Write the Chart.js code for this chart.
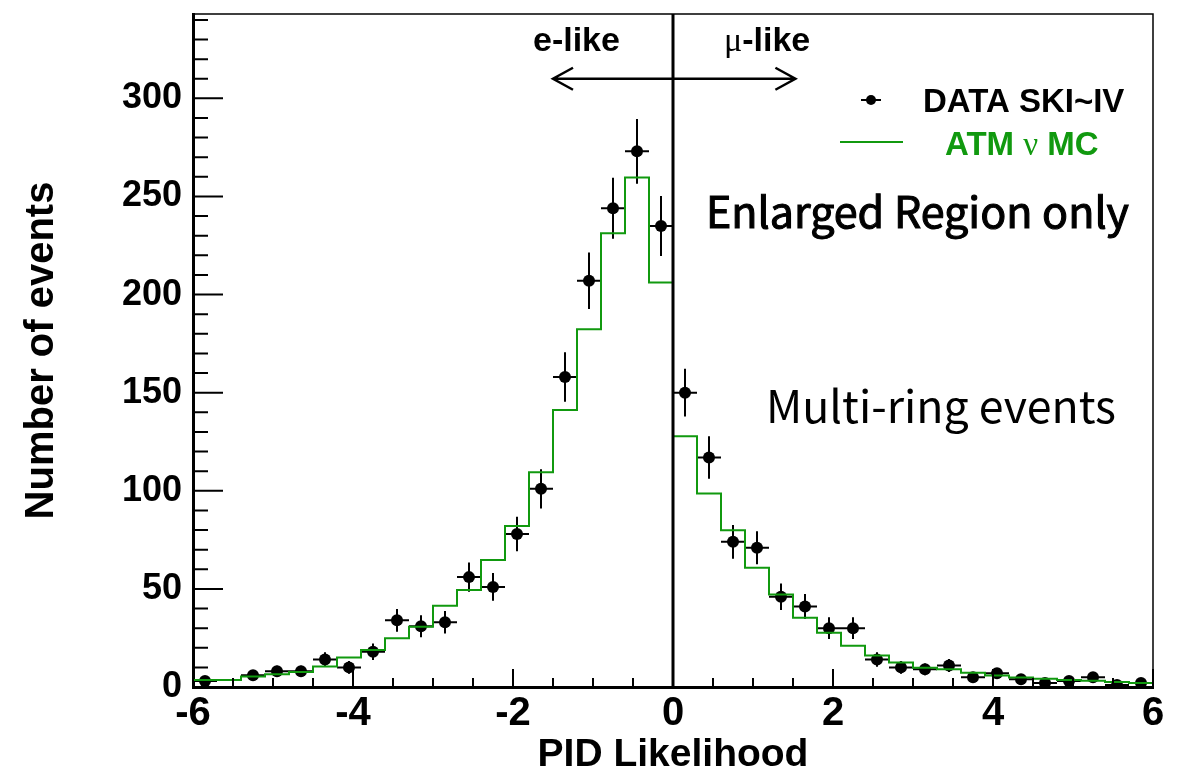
<!DOCTYPE html>
<html>
<head>
<meta charset="utf-8">
<script src="https://cdn.jsdelivr.net/npm/chart.js@4.4.1/dist/chart.umd.min.js"></script>
<style>
  html, body { margin: 0; padding: 0; background: #fff; }
  canvas { display: block; }
</style>
</head>
<body>
<canvas id="pidChart" width="1188" height="775"></canvas>
<script>
// PID likelihood bins (width 0.3, range -6..6)
const binCenters = [
  -5.85, -5.55, -5.25, -4.95, -4.65, -4.35, -4.05, -3.75, -3.45, -3.15,
  -2.85, -2.55, -2.25, -1.95, -1.65, -1.35, -1.05, -0.75, -0.45, -0.15,
   0.15,  0.45,  0.75,  1.05,  1.35,  1.65,  1.95,  2.25,  2.55,  2.85,
   3.15,  3.45,  3.75,  4.05,  4.35,  4.65,  4.95,  5.25,  5.55,  5.85
];
const binWidth = 0.3;

// DATA SK I-IV, multi-ring events (null = empty bin)
const dataCounts = [
  3, null, 6, 8, 8, 14, 10, 18, 34, 31,
  33, 56, 51, 78, 101, 158, 207, 244, 273, 235,
  150, 117, 74, 71, 46, 41, 30, 30, 14, 10,
  9, 11, 5, 7, 4, 2, 3, 5, 1, 2
];
const dataErrors = [
  1.7, null, 2.4, 2.8, 2.8, 3.7, 3.2, 4.2, 5.8, 5.6,
  5.7, 7.5, 7.1, 8.8, 10.0, 12.6, 14.4, 15.6, 16.5, 15.3,
  12.2, 10.8, 8.6, 8.4, 6.8, 6.4, 5.5, 5.5, 3.7, 3.2,
  3.0, 3.3, 2.2, 2.6, 2.0, 1.4, 1.7, 2.2, 1.0, 1.4
];

// atmospheric neutrino MC expectation
const mcCounts = [
  3.6, 3.6, 5.3, 6.5, 7.6, 10.5, 15.0, 18.8, 24.8, 30.7,
  41.4, 49.4, 64.7, 82.1, 109.5, 141.2, 182.3, 231.3, 259.7, 206.1,
  127.8, 98.6, 79.9, 60.8, 47.2, 35.3, 27.7, 21.0, 16.0, 12.5,
  9.8, 9.0, 7.3, 5.9, 4.9, 4.2, 3.6, 3.2, 2.5, 2.0
];

const xTickValues = [-6, -4, -2, 0, 2, 4, 6];
const yTickValues = [0, 50, 100, 150, 200, 250, 300];
const xRange = [-6, 6];
const yRange = [0, 343];

const GREEN = '#11990f';
const SANS = '"Liberation Sans", Arial, Helvetica, sans-serif';
const SERIF = '"Liberation Serif", "DejaVu Serif", serif';
const JP = '"Noto Sans CJK JP", "Noto Sans", sans-serif';

const dataPoints = binCenters.map((x, i) => ({ x: x, y: dataCounts[i] }));
// step outline: one point per left bin edge, closed at the right edge
const mcPoints = binCenters.map((x, i) => ({ x: x - binWidth / 2, y: mcCounts[i] }));
mcPoints.push({ x: binCenters[binCenters.length - 1] + binWidth / 2, y: mcCounts[mcCounts.length - 1] });

// horizontal + vertical error bars on the data points
const errorBars = {
  id: 'errorBars',
  afterDatasetDraw(chart, args) {
    if (args.index !== 0) return;
    const { ctx, scales: { x, y } } = chart;
    ctx.save();
    ctx.beginPath();
    ctx.rect(chart.chartArea.left, chart.chartArea.top, chart.chartArea.width, chart.chartArea.height);
    ctx.clip();
    ctx.strokeStyle = '#000';
    ctx.lineWidth = 2;
    binCenters.forEach((c, i) => {
      const v = dataCounts[i];
      if (v === null) return;
      const e = dataErrors[i];
      const px = x.getPixelForValue(c);
      const py = y.getPixelForValue(v);
      ctx.beginPath();
      ctx.moveTo(x.getPixelForValue(c - binWidth / 2), py);
      ctx.lineTo(x.getPixelForValue(c + binWidth / 2), py);
      ctx.moveTo(px, y.getPixelForValue(v - e));
      ctx.lineTo(px, y.getPixelForValue(v + e));
      ctx.stroke();
    });
    ctx.restore();
  }
};

// frame, inward ticks, zero line, arrows, legend and labels
const decorations = {
  id: 'decorations',
  afterDraw(chart) {
    const { ctx, chartArea: a, scales: { x, y } } = chart;
    ctx.save();

    // top and right frame edges
    ctx.strokeStyle = '#000';
    ctx.lineWidth = 1.5;
    ctx.beginPath();
    ctx.moveTo(a.left, a.top);
    ctx.lineTo(a.right, a.top);
    ctx.lineTo(a.right, a.bottom);
    ctx.stroke();

    // ticks pointing into the frame
    ctx.lineWidth = 2;
    ctx.beginPath();
    for (let v = xRange[0]; v <= xRange[1] + 1e-9; v += 0.5) {
      const px = x.getPixelForValue(v);
      const len = Math.abs(v % 2) < 1e-9 ? 18 : 9;
      ctx.moveTo(px, a.bottom);
      ctx.lineTo(px, a.bottom - len);
    }
    for (let v = 0; v <= yRange[1]; v += 10) {
      const py = y.getPixelForValue(v);
      const len = v % 50 === 0 ? 30 : 15;
      ctx.moveTo(a.left, py);
      ctx.lineTo(a.left + len, py);
    }
    ctx.stroke();

    // PID = 0 separation line
    const x0 = x.getPixelForValue(0);
    ctx.lineWidth = 3;
    ctx.beginPath();
    ctx.moveTo(x0, a.top);
    ctx.lineTo(x0, a.bottom);
    ctx.stroke();

    // e-like / mu-like double arrow
    const ay = y.getPixelForValue(310);
    const aL = x.getPixelForValue(-1.5);
    const aR = x.getPixelForValue(1.53);
    ctx.lineWidth = 2.5;
    ctx.beginPath();
    ctx.moveTo(aL, ay);
    ctx.lineTo(aR, ay);
    ctx.moveTo(aL + 20, ay - 11);
    ctx.lineTo(aL, ay);
    ctx.lineTo(aL + 20, ay + 11);
    ctx.moveTo(aR - 20, ay - 11);
    ctx.lineTo(aR, ay);
    ctx.lineTo(aR - 20, ay + 11);
    ctx.stroke();

    ctx.fillStyle = '#000';
    ctx.textBaseline = 'alphabetic';
    ctx.textAlign = 'left';
    ctx.font = 'bold 34px ' + SANS;
    ctx.fillText('e-like', 533, 51);

    ctx.font = '34px ' + SERIF;
    ctx.fillText('\u03bc', 724, 51);
    const muW = ctx.measureText('\u03bc').width;
    ctx.font = 'bold 34px ' + SANS;
    ctx.fillText('-like', 724 + muW, 51);

    // legend
    const lx = 871, ly = 100;
    ctx.lineWidth = 2;
    ctx.beginPath();
    ctx.moveTo(lx - 10, ly);
    ctx.lineTo(lx + 10, ly);
    ctx.stroke();
    ctx.beginPath();
    ctx.arc(lx, ly, 5, 0, Math.PI * 2);
    ctx.fill();
    ctx.font = 'bold 33px ' + SANS;
    ctx.fillText('DATA SKI~IV', 923, 112);

    ctx.strokeStyle = GREEN;
    ctx.lineWidth = 2;
    ctx.beginPath();
    ctx.moveTo(840, 142);
    ctx.lineTo(903, 142);
    ctx.stroke();
    ctx.fillStyle = GREEN;
    let tx = 945;
    ctx.font = 'bold 33px ' + SANS;
    ctx.fillText('ATM ', tx, 155);
    tx += ctx.measureText('ATM ').width;
    ctx.font = '33px ' + SERIF;
    ctx.fillText('\u03bd', tx, 155);
    tx += ctx.measureText('\u03bd').width;
    ctx.font = 'bold 33px ' + SANS;
    ctx.fillText(' MC', tx, 155);

    // sample description (medium weight: regular face with a thin outline)
    ctx.fillStyle = '#000';
    ctx.strokeStyle = '#000';
    ctx.lineWidth = 1.1;
    ctx.font = '400 43px ' + JP;
    ctx.fillText('Enlarged Region only', 706, 228, 424);
    ctx.strokeText('Enlarged Region only', 706, 228, 424);
    ctx.font = '400 45px ' + JP;
    ctx.fillText('Multi-ring events', 766, 423, 350);

    ctx.restore();
  }
};

new Chart(document.getElementById('pidChart'), {
  type: 'scatter',
  data: {
    datasets: [
      {
        label: 'DATA SKI~IV',
        data: dataPoints,
        order: 2,
        showLine: false,
        pointRadius: 6,
        pointHoverRadius: 6,
        pointBackgroundColor: '#000',
        pointBorderWidth: 0
      },
      {
        label: 'ATM \u03bd MC',
        data: mcPoints,
        order: 1,
        showLine: true,
        stepped: 'before',
        borderColor: GREEN,
        borderWidth: 2,
        pointRadius: 0,
        fill: false
      }
    ]
  },
  options: {
    responsive: false,
    animation: false,
    devicePixelRatio: 1,
    layout: { padding: { top: 14, right: 35, left: 0, bottom: 0 } },
    plugins: {
      legend: { display: false },
      tooltip: { enabled: false }
    },
    scales: {
      x: {
        type: 'linear',
        min: xRange[0],
        max: xRange[1],
        afterBuildTicks: s => { s.ticks = xTickValues.map(v => ({ value: v })); },
        afterFit: s => { s.height = 88; s.paddingLeft = 0; s.paddingRight = 0; },
        grid: { display: false, drawTicks: false },
        border: { display: true, color: '#000', width: 3 },
        ticks: {
          color: '#000',
          padding: 7,
          maxRotation: 0,
          font: { family: SANS, size: 40, weight: 'bold', lineHeight: 1 }
        },
        title: {
          display: true,
          text: 'PID Likelihood',
          color: '#000',
          padding: { top: 0, bottom: 0 },
          font: { family: SANS, size: 39, weight: 'bold', lineHeight: 1 }
        }
      },
      y: {
        type: 'linear',
        min: yRange[0],
        max: yRange[1],
        afterBuildTicks: s => { s.ticks = yTickValues.map(v => ({ value: v })); },
        afterFit: s => { s.width = 193; s.paddingTop = 0; s.paddingBottom = 0; },
        grid: { display: false, drawTicks: false },
        border: { display: true, color: '#000', width: 3 },
        ticks: {
          color: '#000',
          padding: 11,
          font: { family: SANS, size: 36, weight: 'bold', lineHeight: 1 }
        },
        title: {
          display: true,
          text: 'Number of events',
          color: '#000',
          padding: { top: 22, bottom: 0 },
          font: { family: SANS, size: 40, weight: 'bold', lineHeight: 1 }
        }
      }
    }
  },
  plugins: [errorBars, decorations]
});
</script>
</body>
</html>
